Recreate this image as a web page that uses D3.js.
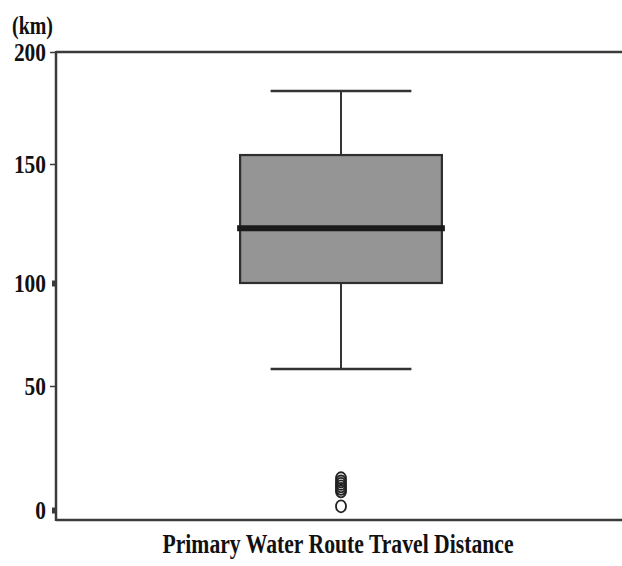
<!DOCTYPE html>
<html>
<head>
<meta charset="utf-8">
<script src="https://cdn.jsdelivr.net/npm/d3@7"></script>
<style>
  html, body { margin: 0; padding: 0; background: #fff; }
  svg { display: block; }
  text { font-family: "Liberation Serif", "Times New Roman", serif; font-weight: bold; fill: #111; }
</style>
</head>
<body>
<svg id="chart" width="622" height="566"></svg>
<script>
// ---- data ----
const categories = ["Primary Water Route Travel Distance"];
const q1 = [100];
const median = [123];
const q3 = [154];
const whiskerLow = [58.3];
const whiskerHigh = [182.6];
const outliers = [[1.5, 7.5, 8.5, 9.5, 10.5, 11.5, 12.8]];
const yTicks = [0, 50, 100, 150, 200];
const yUnit = "(km)";

// ---- layout ----
const svg = d3.select("#chart");
const plotLeft = 56, plotRight = 626, plotTop = 52, plotBottom = 520;

// the source axis is slightly non-uniform; a piecewise linear scale follows it
const y = d3.scaleLinear()
  .domain([0, 50, 100, 150, 200])
  .range([510, 386, 283, 164, 52]);
const x = d3.scaleBand().domain(categories).range([plotLeft, plotRight]);

const axisColor = "#3a3a3a";

// frame lines
svg.append("line").attr("x1", plotLeft).attr("x2", 622).attr("y1", plotTop).attr("y2", plotTop)
  .attr("stroke", axisColor).attr("stroke-width", 2.5);
svg.append("line").attr("x1", plotLeft).attr("x2", 622).attr("y1", plotBottom).attr("y2", plotBottom)
  .attr("stroke", axisColor).attr("stroke-width", 2.5);

// y axis
const yAxis = d3.axisLeft(y).tickValues(yTicks).tickSize(5).tickPadding(5).tickFormat(d3.format("d"));
const gy = svg.append("g").attr("transform", `translate(${plotLeft},0)`).call(yAxis);
gy.select(".domain").remove();
gy.selectAll(".tick line").attr("stroke", axisColor)
  .attr("stroke-width", d => (d === 0 || d === 100) ? 6 : 1.5)
  .attr("x2", d => (d === 0 || d === 100) ? -4 : -6);
gy.selectAll(".tick text")
  .attr("font-family", "Liberation Serif, serif")
  .attr("font-weight", "bold")
  .attr("font-size", 26)
  .attr("fill", "#111")
  .attr("x", -10)
  .attr("textLength", d => String(d).length * 10.7)
  .attr("lengthAdjust", "spacingAndGlyphs");
svg.append("line").attr("x1", plotLeft).attr("x2", plotLeft).attr("y1", plotTop - 1).attr("y2", plotBottom + 1)
  .attr("stroke", axisColor).attr("stroke-width", 2.5);

// unit label
svg.append("text").attr("x", 12).attr("y", 34)
  .attr("font-size", 25)
  .attr("textLength", 41).attr("lengthAdjust", "spacingAndGlyphs")
  .text(yUnit);

// boxes
categories.forEach((c, i) => {
  const cx = x(c) + x.bandwidth() / 2;
  const bw = x.bandwidth() * 0.354;
  const cw = x.bandwidth() * 0.247;
  const g = svg.append("g");
  // whisker stems
  g.append("line").attr("x1", cx).attr("x2", cx).attr("y1", y(whiskerHigh[i])).attr("y2", y(q3[i]))
    .attr("stroke", "#333").attr("stroke-width", 2);
  g.append("line").attr("x1", cx).attr("x2", cx).attr("y1", y(q1[i])).attr("y2", y(whiskerLow[i]))
    .attr("stroke", "#333").attr("stroke-width", 2);
  // caps
  g.append("line").attr("x1", cx - cw / 2).attr("x2", cx + cw / 2).attr("y1", y(whiskerHigh[i])).attr("y2", y(whiskerHigh[i]))
    .attr("stroke", "#333").attr("stroke-width", 2.5);
  g.append("line").attr("x1", cx - cw / 2).attr("x2", cx + cw / 2).attr("y1", y(whiskerLow[i])).attr("y2", y(whiskerLow[i]))
    .attr("stroke", "#333").attr("stroke-width", 2.5);
  // box
  g.append("rect").attr("x", cx - bw / 2).attr("y", y(q3[i]))
    .attr("width", bw).attr("height", y(q1[i]) - y(q3[i]))
    .attr("fill", "#959595").attr("stroke", "#2e2e2e").attr("stroke-width", 2.2);
  // median
  g.append("line").attr("x1", cx - bw / 2 - 3).attr("x2", cx + bw / 2 + 3)
    .attr("y1", y(median[i])).attr("y2", y(median[i]))
    .attr("stroke", "#1a1a1a").attr("stroke-width", 6);
  // outliers
  g.selectAll("ellipse.out").data(outliers[i]).enter().append("ellipse")
    .attr("class", "out")
    .attr("cx", cx).attr("cy", d => y(d))
    .attr("rx", 5).attr("ry", 6)
    .attr("fill", "none").attr("stroke", "#222").attr("stroke-width", 1.8);
});

// category label
svg.append("text").attr("x", 338).attr("y", 553)
  .attr("text-anchor", "middle")
  .attr("font-size", 28)
  .attr("textLength", 351).attr("lengthAdjust", "spacingAndGlyphs")
  .text(categories[0]);
</script>
</body>
</html>
